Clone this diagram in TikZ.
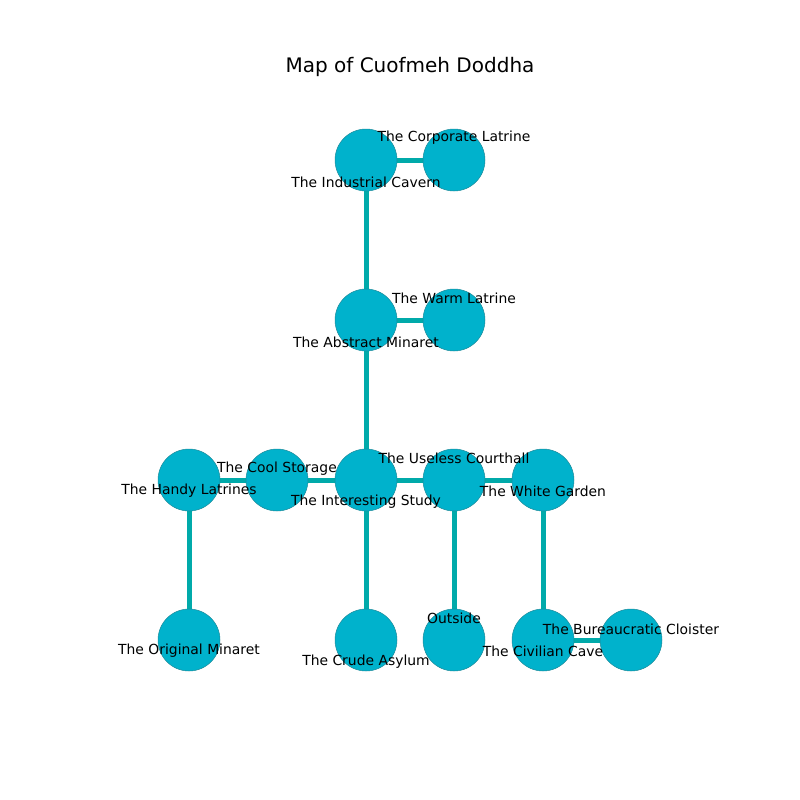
\documentclass[tikz,border=0pt]{standalone}
\usepackage{fontspec}
\setmainfont{DejaVu Sans}
\begin{document}
\begin{tikzpicture}[x=1pt,y=-1pt,
  room/.style={circle,fill=nodefill,draw=nodeedge,line width=0.5pt,minimum size=62pt,inner sep=0pt},
  link/.style={draw=edgecol,line width=5pt},
  lbl/.style={font=\fontsize{13.9}{16}\selectfont,inner sep=0pt,text=black}]
\definecolor{nodefill}{HTML}{00B2CC}
\definecolor{nodeedge}{HTML}{1E8A99}
\definecolor{edgecol}{HTML}{00AAAA}
\useasboundingbox (0,0) rectangle (800,800);
\node[font=\fontsize{20}{24}\selectfont] (title) at (410,67) {Map of Cuofmeh Doddha};
% node positions
\coordinate (ic) at (366,160);
\coordinate (cl) at (454,160);
\coordinate (am) at (366,320);
\coordinate (wl) at (454,320);
\coordinate (is) at (366,480);
\coordinate (cs) at (277,480);
\coordinate (hl) at (189,480);
\coordinate (uc) at (454,480);
\coordinate (wg) at (543,480);
\coordinate (om) at (189,640);
\coordinate (ca) at (366,640);
\coordinate (ou) at (454,640);
\coordinate (cc) at (543,640);
\coordinate (bc) at (631,640);
% edges
\draw[link] (ic) -- (cl);
\draw[link] (ic) -- (am);
\draw[link] (am) -- (wl);
\draw[link] (am) -- (is);
\draw[link] (is) -- (cs);
\draw[link] (cs) -- (hl);
\draw[link] (is) -- (uc);
\draw[link] (uc) -- (wg);
\draw[link] (is) -- (ca);
\draw[link] (uc) -- (ou);
\draw[link] (hl) -- (om);
\draw[link] (wg) -- (cc);
\draw[link] (cc) -- (bc);
% nodes
\foreach \p in {ic,cl,am,wl,is,cs,hl,uc,wg,om,ca,ou,cc,bc}
  \node[room] (n\p) at (\p) {};
% labels
\node[lbl] (l1) at (454,138) {The Corporate Latrine};
\node[lbl] (l2) at (366,182) {The Industrial Cavern};
\node[lbl] (l3) at (454,298) {The Warm Latrine};
\node[lbl] (l4) at (366,342) {The Abstract Minaret};
\node[lbl] (l5) at (277,469) {The Cool Storage};
\node[lbl] (l6) at (189,491) {The Handy Latrines};
\node[lbl] (l7) at (366,502) {The Interesting Study};
\node[lbl] (l8) at (454,458) {The Useless Courthall};
\node[lbl] (l9) at (543,491) {The White Garden};
\node[lbl] (l10) at (454,618) {Outside};
\node[lbl] (l11) at (189,651) {The Original Minaret};
\node[lbl] (l12) at (366,662) {The Crude Asylum};
\node[lbl] (l13) at (543,651) {The Civilian Cave};
\node[lbl] (l14) at (631,629) {The Bureaucratic Cloister};
\end{tikzpicture}
\end{document}
